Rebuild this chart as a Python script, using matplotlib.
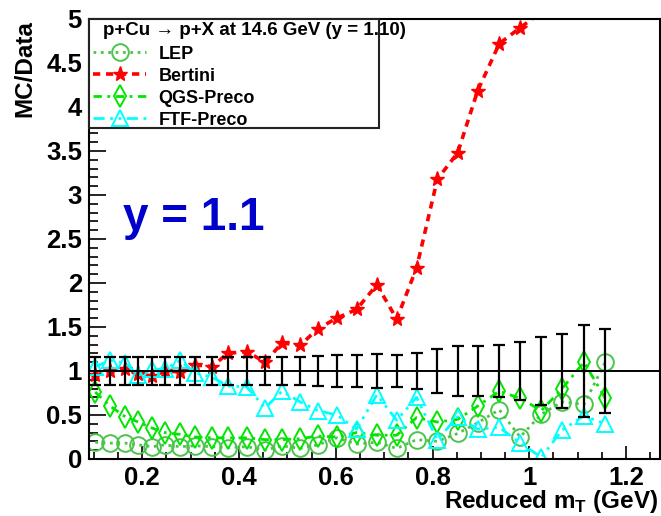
import numpy as np
import matplotlib
matplotlib.use('Agg')
import matplotlib.pyplot as plt
from matplotlib.ticker import MultipleLocator, FuncFormatter

plt.rcParams['font.family'] = ['Liberation Sans', 'DejaVu Sans']
plt.rcParams['font.weight'] = 'bold'
plt.rcParams['mathtext.fontset'] = 'custom'
plt.rcParams['mathtext.rm'] = 'Liberation Sans:bold'
plt.rcParams['mathtext.bf'] = 'Liberation Sans:bold'

## Data
x_mt = [0.103, 0.134, 0.165, 0.192, 0.221, 0.247, 0.278, 0.309, 0.344, 0.377,
        0.416, 0.454, 0.489, 0.526, 0.563, 0.602, 0.643, 0.685, 0.726, 0.767,
        0.810, 0.852, 0.893, 0.938, 0.981, 1.025, 1.068, 1.113, 1.157]

# data (ratio = 1) with its relative error
data_err = [0.16, 0.16, 0.16, 0.16, 0.16, 0.16, 0.16, 0.16, 0.16, 0.16,
            0.16, 0.16, 0.16, 0.16, 0.17, 0.18, 0.18, 0.19, 0.18, 0.20,
            0.25, 0.28, 0.28, 0.30, 0.33, 0.39, 0.42, 0.52, 0.48]

lep = [0.19, 0.18, 0.18, 0.16, 0.14, 0.16, 0.14, 0.15, 0.14, 0.13,
       0.14, 0.10, 0.15, 0.12, 0.16, 0.24, 0.17, 0.19, 0.12, 0.22,
       0.20, 0.29, 0.41, 0.56, 0.25, 0.51, 0.65, 0.62, 1.10]

bertini = [0.95, 1.00, 1.02, 0.97, 0.94, 1.00, 0.99, 1.07, 1.05, 1.20,
           1.22, 1.10, 1.32, 1.29, 1.48, 1.60, 1.70, 1.98, 1.59, 2.17,
           3.18, 3.48, 4.18, 4.72, 4.90, 5.08]

qgs = [0.76, 0.60, 0.48, 0.42, 0.35, 0.30, 0.28, 0.25, 0.24, 0.24,
       0.24, 0.22, 0.22, 0.23, 0.26, 0.25, 0.30, 0.27, 0.27, 0.47,
       0.42, 0.45, 0.60, 0.77, 0.69, 0.55, 0.80, 1.10, 0.69]

ftf = [1.05, 1.12, 1.09, 0.95, 1.02, 1.02, 1.12, 0.98, 0.93, 0.83,
       0.82, 0.58, 0.77, 0.65, 0.55, 0.50, 0.34, 0.73, 0.44, 0.70,
       0.22, 0.48, 0.34, 0.36, 0.18, 0.02, 0.33, 0.49, 0.40]

header = 'p+Cu \u2192 p+X at 14.6 GeV (y = 1.10)'

## Figure
fig = plt.figure(figsize=(6.61, 5.16), dpi=100)
ax = fig.add_axes([0.1346, 0.1105, 0.8638, 0.8527])

l1, = ax.plot(x_mt, lep, color='#4cc44c', ls=':', lw=2.0, marker='o', ms=12,
              mfc='none', mec='#4cc44c', mew=1.4, label='LEP')
l2, = ax.plot(x_mt[:len(bertini)], bertini, color='#ff0000', ls=(0, (2.0, 1.6)), lw=2.6,
              marker='*', ms=11, mfc='#ff0000', mec='#ff0000', label='Bertini')
l3, = ax.plot(x_mt, qgs, color='#00e600', ls=(0, (3, 2, 1, 2)), lw=2.0, marker='d', ms=11,
              mfc='none', mec='#00e600', mew=1.4, label='QGS-Preco')
l4, = ax.plot(x_mt, ftf, color='#00ffff', ls=(0, (4, 2, 1, 2, 1, 2)), lw=2.0, marker='^', ms=12,
              mfc='none', mec='#00ffff', mew=1.4, label='FTF-Preco')

# data ratio with errors
ax.errorbar(x_mt, np.ones(len(x_mt)), yerr=data_err, fmt='none', ecolor='black',
            elinewidth=1.6, capsize=4.5, capthick=1.6, zorder=5)
ax.axhline(1.0, color='black', lw=1.4, zorder=5)

ax.set_xlim(0.09, 1.27)
ax.set_ylim(0, 5)

ax.xaxis.set_major_locator(MultipleLocator(0.2))
ax.xaxis.set_minor_locator(MultipleLocator(0.05))
ax.yaxis.set_major_locator(MultipleLocator(0.5))
ax.yaxis.set_minor_locator(MultipleLocator(0.1))
ax.xaxis.set_major_formatter(FuncFormatter(lambda v, p: ('%g' % round(v, 2))))
ax.yaxis.set_major_formatter(FuncFormatter(lambda v, p: ('%g' % round(v, 2))))

ax.tick_params(axis='both', which='both', direction='in', top=False, right=False,
               width=1.2, labelsize=18.5)
ax.tick_params(axis='y', which='major', length=12, pad=5)
ax.tick_params(axis='y', which='minor', length=6.5)
ax.tick_params(axis='x', which='major', length=9.5, pad=5)
ax.tick_params(axis='x', which='minor', length=5)
for lab in ax.get_xticklabels() + ax.get_yticklabels():
    lab.set_fontweight('bold')
for sp in ax.spines.values():
    sp.set_linewidth(1.5)

ax.set_xlabel(r'Reduced m$_\mathbf{T}$ (GeV)', fontsize=17.5, fontweight='bold', ha='right')
ax.xaxis.set_label_coords(0.9965, -0.066)
ax.set_ylabel('MC/Data', fontsize=17.5, fontweight='bold', loc='top')
ax.yaxis.set_label_coords(-0.092, 0.998)

ax.text(0.06, 0.52, 'y = 1.1', transform=ax.transAxes, color='#0000cc',
        fontsize=33, fontweight='bold', va='baseline', ha='left')

# legend box (white, covers the data) with a header line on top
ax.add_patch(plt.Rectangle((0, 0.752), 0.508, 0.248, transform=ax.transAxes,
                           facecolor='white', edgecolor='#222222', lw=1.5,
                           zorder=8, clip_on=False))
leg = ax.legend(handles=[l1, l2, l3, l4], loc='upper left',
                bbox_to_anchor=(0.0, 0.95), borderaxespad=0,
                fontsize=13, frameon=False, handlelength=2.9,
                handletextpad=0.7, borderpad=0.25, labelspacing=0.28)
leg.set_zorder(10)
for t in leg.get_texts():
    t.set_fontweight('bold')

ax.text(0.0245, 0.9636, header, transform=ax.transAxes, fontsize=13.5,
        fontweight='bold', va='baseline', ha='left', zorder=12)

fig.savefig('out.png', dpi=100)
